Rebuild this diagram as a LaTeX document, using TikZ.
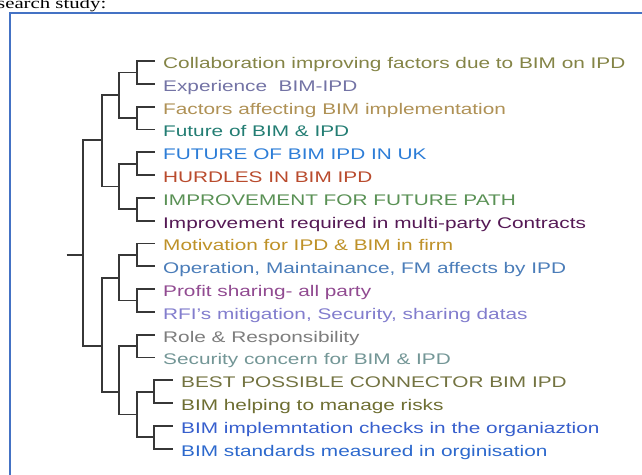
\documentclass[tikz,border=0pt]{standalone}
\usepackage{fontspec}
\setmainfont{Liberation Sans}[FakeStretch=1.35]
\newfontfamily\bodyserif{Liberation Serif}[FakeStretch=1.35]
\definecolor{framebl}{RGB}{68,114,196}
\definecolor{linegray}{RGB}{55,55,55}
\definecolor{collabc}{RGB}{132,132,70}
\definecolor{expc}{RGB}{115,115,165}
\definecolor{factc}{RGB}{175,145,85}
\definecolor{futc}{RGB}{35,125,115}
\definecolor{ukc}{RGB}{45,125,215}
\definecolor{hurdc}{RGB}{185,75,45}
\definecolor{impc}{RGB}{90,145,85}
\definecolor{contc}{RGB}{85,25,85}
\definecolor{motc}{RGB}{190,145,40}
\definecolor{opc}{RGB}{75,125,185}
\definecolor{profc}{RGB}{145,75,145}
\definecolor{rfic}{RGB}{130,125,205}
\definecolor{rolec}{RGB}{125,125,125}
\definecolor{secc}{RGB}{115,150,150}
\definecolor{bestc}{RGB}{115,115,65}
\definecolor{riskc}{RGB}{110,110,50}
\definecolor{implc}{RGB}{55,95,205}
\definecolor{stdc}{RGB}{45,105,205}
\begin{document}
\begin{tikzpicture}[x=1pt, y=-1pt, font=\fontsize{15.4}{18}\selectfont,
  link/.style={draw=linegray, line width=1.8pt},
  leaf/.style={anchor=west, inner xsep=8pt, text height=16pt, text depth=1pt}]
\path[use as bounding box] (0,0) rectangle (642,474);
\clip (0,0) rectangle (642,474);
\node[anchor=base west, inner sep=0pt, font=\bodyserif\fontsize{15.4}{18}\selectfont] (caption) at (-3,8.3) {search study:};
\draw[framebl, line width=2pt] (9.5,13) rectangle (700,520);
% junctions
\coordinate (stub) at (66.7,254.8);
\coordinate (root) at (83.3,254.8);
\coordinate (grpA) at (101.7,140);
\coordinate (grpB) at (101.7,346);
\coordinate (A1) at (119.3,95.2);
\coordinate (A2) at (119.3,186.4);
\coordinate (B1) at (119.3,277.6);
\coordinate (B2) at (119.3,391.6);
\coordinate (p1) at (137.3,72.4);
\coordinate (p2) at (137.3,118);
\coordinate (p3) at (137.3,163.6);
\coordinate (p4) at (137.3,209.2);
\coordinate (p5) at (137.3,254.8);
\coordinate (p6) at (137.3,300.4);
\coordinate (p7) at (137.3,346);
\coordinate (grpC) at (137.3,414.4);
\coordinate (p8) at (154.3,391.6);
\coordinate (p9) at (154.3,437.2);
% leaves
\node[leaf, text=collabc] (collab) at (155,61) {Collaboration improving factors due to BIM on IPD};
\node[leaf, text=expc] (exper) at (155,83.8) {Experience\ \ BIM-IPD};
\node[leaf, text=factc] (factors) at (155,106.6) {Factors affecting BIM implementation};
\node[leaf, text=futc] (future) at (155,129.4) {Future of BIM \& IPD};
\node[leaf, text=ukc] (futuk) at (155,152.2) {FUTURE OF BIM IPD IN UK};
\node[leaf, text=hurdc] (hurdles) at (155,175) {HURDLES IN BIM IPD};
\node[leaf, text=impc] (impfut) at (155,197.8) {IMPROVEMENT FOR FUTURE PATH};
\node[leaf, text=contc] (impcont) at (155,220.6) {Improvement required in multi-party Contracts};
\node[leaf, text=motc] (motiv) at (155,243.4) {Motivation for IPD \& BIM in firm};
\node[leaf, text=opc] (oper) at (155,266.2) {Operation, Maintainance, FM affects by IPD};
\node[leaf, text=profc] (profit) at (155,289) {Profit sharing- all party};
\node[leaf, text=rfic] (rfi) at (155,311.8) {RFI's mitigation, Security, sharing datas};
\node[leaf, text=rolec] (role) at (155,334.6) {Role \& Responsibility};
\node[leaf, text=secc] (secur) at (155,357.4) {Security concern for BIM \& IPD};
\node[leaf, text=bestc] (best) at (173,380.2) {BEST POSSIBLE CONNECTOR BIM IPD};
\node[leaf, text=riskc] (risks) at (173,403) {BIM helping to manage risks};
\node[leaf, text=implc] (checks) at (173,425.8) {BIM implemntation checks in the organiaztion};
\node[leaf, text=stdc] (stds) at (173,448.6) {BIM standards measured in orginisation};
% dendrogram
\draw[link] (stub) -- (root) (root) |- (grpA) (root) |- (grpB);
\draw[link] (grpA) |- (A1) (grpA) |- (A2) (grpB) |- (B1) (grpB) |- (B2);
\draw[link] (A1) |- (p1) (A1) |- (p2) (A2) |- (p3) (A2) |- (p4);
\draw[link] (B1) |- (p5) (B1) |- (p6) (B2) |- (p7) (B2) |- (grpC);
\draw[link] (grpC) |- (p8) (grpC) |- (p9);
\draw[link] (p1) |- (collab.west) (p1) |- (exper.west) (p2) |- (factors.west) (p2) |- (future.west);
\draw[link] (p3) |- (futuk.west) (p3) |- (hurdles.west) (p4) |- (impfut.west) (p4) |- (impcont.west);
\draw[link] (p5) |- (motiv.west) (p5) |- (oper.west) (p6) |- (profit.west) (p6) |- (rfi.west);
\draw[link] (p7) |- (role.west) (p7) |- (secur.west);
\draw[link] (p8) |- (best.west) (p8) |- (risks.west) (p9) |- (checks.west) (p9) |- (stds.west);
\end{tikzpicture}
\end{document}
